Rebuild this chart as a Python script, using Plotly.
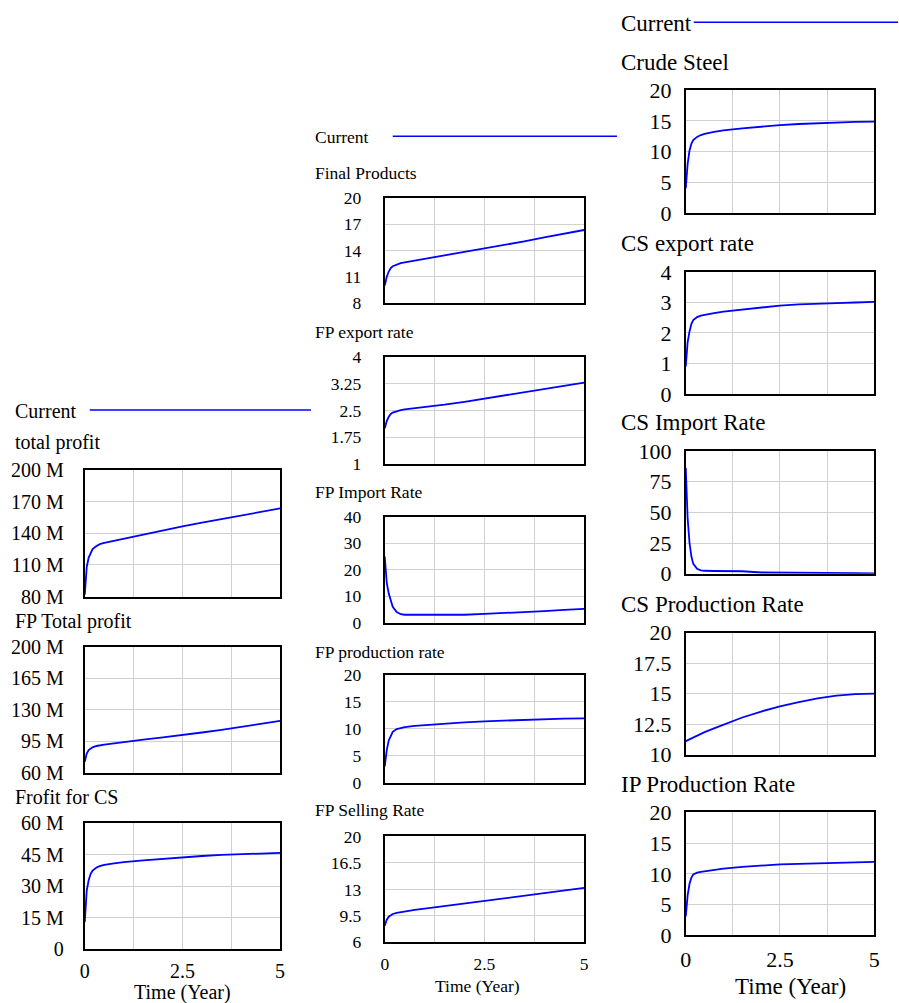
import plotly.graph_objects as go

# The layout below is written in pixels of the 899x1003 target picture.
REF_W, REF_H = 899, 1003
FIG_W, FIG_H = 907, 1027   # plotly figure size
OFF_X, OFF_Y = 4, 12       # page offset seen in the captured picture

# ---------------- data ----------------
time_years = [0, 0.02, 0.05, 0.1, 0.15, 0.2, 0.3, 0.4, 0.5, 0.75, 1, 1.5, 2, 2.5, 3, 3.5, 4, 4.5, 5]

total_profit = [82, 97, 108, 117, 122, 125, 128, 130, 131, 133, 135, 138.5, 142.5, 146.5, 150, 153.5, 157, 160.5, 163.5]
fp_total_profit = [72, 77, 81, 85, 87, 88, 89.5, 90.5, 91, 92.5, 94, 96.5, 99, 101.5, 104.5, 107.5, 110.5, 114, 117.5]
profit_for_cs = [13, 22, 28, 33, 36, 37.5, 39, 39.8, 40.3, 41, 41.6, 42.4, 43.2, 43.8, 44.5, 45, 45.4, 45.7, 46]

final_products = [10, 10.5, 11, 11.6, 12, 12.2, 12.4, 12.55, 12.65, 12.85, 13, 13.4, 13.8, 14.2, 14.6, 15.05, 15.5, 15.9, 16.35]
fp_export_rate = [2.0, 2.1, 2.2, 2.32, 2.4, 2.44, 2.48, 2.51, 2.53, 2.56, 2.59, 2.66, 2.74, 2.83, 2.92, 3.01, 3.1, 3.19, 3.28]
fp_import_rate = [25, 20, 15, 11, 8, 6, 4, 3.2, 3, 3, 3, 3, 3, 3.3, 3.6, 4, 4.4, 4.8, 5.2]
fp_production_rate = [3, 4.5, 6, 7.8, 8.8, 9.4, 9.9, 10.1, 10.25, 10.5, 10.65, 10.9, 11.15, 11.35, 11.5, 11.65, 11.8, 11.85, 11.9]
fp_selling_rate = [8.2, 8.6, 9, 9.4, 9.6, 9.75, 9.9, 10, 10.1, 10.3, 10.45, 10.8, 11.1, 11.45, 11.8, 12.15, 12.5, 12.85, 13.2]

crude_steel = [4, 6, 8, 10.2, 11.3, 11.9, 12.4, 12.7, 12.9, 13.2, 13.45, 13.8, 14.1, 14.3, 14.5, 14.65, 14.75, 14.85, 14.9]
cs_export_rate = [0.9, 1.3, 1.7, 2.05, 2.3, 2.42, 2.52, 2.57, 2.6, 2.65, 2.7, 2.77, 2.84, 2.9, 2.94, 2.97, 2.98, 3.0, 3.02]
cs_import_rate = [86, 65, 45, 25, 14, 8, 4, 2.8, 2.4, 2.2, 2.1, 2, 1, 1, 1, 0.9, 0.8, 0.5, 0.2]
cs_production_rate = [11.1, 11.13, 11.19, 11.28, 11.36, 11.44, 11.58, 11.71, 11.84, 12.15, 12.46, 13.04, 13.53, 13.95, 14.3, 14.6, 14.83, 14.95, 15.0]
ip_production_rate = [3.1, 4.5, 6.5, 8.4, 9.4, 9.9, 10.2, 10.35, 10.45, 10.65, 10.85, 11.15, 11.4, 11.55, 11.65, 11.75, 11.85, 11.9, 11.95]

x_ticks = [0, 1.25, 2.5, 3.75, 5]
x_tick_labels = ["0", "", "2.5", "", "5"]

yt_total_profit = [80, 110, 140, 170, 200]
yt_fp_total_profit = [60, 95, 130, 165, 200]
yt_profit_for_cs = [0, 15, 30, 45, 60]
yt_final_products = [8, 11, 14, 17, 20]
yt_fp_export_rate = [1, 1.75, 2.5, 3.25, 4]
yt_fp_import_rate = [0, 10, 20, 30, 40]
yt_fp_production_rate = [0, 5, 10, 15, 20]
yt_fp_selling_rate = [6, 9.5, 13, 16.5, 20]
yt_crude_steel = [0, 5, 10, 15, 20]
yt_cs_export_rate = [0, 1, 2, 3, 4]
yt_cs_import_rate = [0, 25, 50, 75, 100]
yt_cs_production_rate = [10, 12.5, 15, 17.5, 20]
yt_ip_production_rate = [0, 5, 10, 15, 20]

titles_left = ["total profit", "FP Total profit", "Frofit for CS"]
titles_mid = ["Final Products", "FP export rate", "FP Import Rate", "FP production rate", "FP Selling Rate"]
titles_right = ["Crude Steel", "CS export rate", "CS Import Rate", "CS Production Rate", "IP Production Rate"]

series_name = "Current"
x_title = "Time (Year)"

# ---------------- layout (pixel boxes in target-picture pixels) ----------------
FONT = "Liberation Serif, Times New Roman, serif"
BLUE = "#0000ff"

def fmt(v, suffix=""):
    s = ("%g" % v)
    return s if v == 0 else s + suffix

columns = [
    dict(x0=83, x1=279, fs=20, tfs=20, yst=15, xst=3, tx=12, time_y=993, time_x=181,
         cur_y=411, line=(88, 310),
         panels=[(total_profit, yt_total_profit, " M", 470, 597, 443),
                 (fp_total_profit, yt_fp_total_profit, " M", 647, 773, 622),
                 (profit_for_cs, yt_profit_for_cs, " M", 824, 950, 798)],
         titles=titles_left),
    dict(x0=384, x1=584, fs=17.5, tfs=17.5, yst=18, xst=5, tx=313, time_y=987, time_x=477,
         cur_y=137, line=(392, 617),
         panels=[(final_products, yt_final_products, "", 198, 303, 173),
                 (fp_export_rate, yt_fp_export_rate, "", 357, 464, 332),
                 (fp_import_rate, yt_fp_import_rate, "", 517, 623, 492),
                 (fp_production_rate, yt_fp_production_rate, "", 675, 783, 652),
                 (fp_selling_rate, yt_fp_selling_rate, "", 837, 943, 811)],
         titles=titles_mid),
    dict(x0=686, x1=875, fs=22, tfs=23, yst=8, xst=3, tx=620, time_y=987, time_x=791,
         cur_y=23, line=(694, 899),
         panels=[(crude_steel, yt_crude_steel, "", 90, 213, 62),
                 (cs_export_rate, yt_cs_export_rate, "", 272, 394, 243),
                 (cs_import_rate, yt_cs_import_rate, "", 451, 574, 423),
                 (cs_production_rate, yt_cs_production_rate, "", 633, 755, 605),
                 (ip_production_rate, yt_ip_production_rate, "", 813, 936, 785)],
         titles=titles_right),
]

fig = go.Figure()
layout = dict(width=FIG_W, height=FIG_H, margin=dict(l=0, r=0, t=0, b=0),
              paper_bgcolor="white", plot_bgcolor="white", showlegend=False,
              font=dict(family=FONT, color="black"))
annotations = []
shapes = []

def px(x):
    c = x * FIG_W / REF_W - OFF_X
    return c / FIG_W

def py(y):
    c = y * FIG_H / REF_H - OFF_Y
    return 1 - c / FIG_H

k = 0
for col in columns:
    n = len(col["panels"])
    for i, (vals, yt, suf, y0, y1, ty) in enumerate(col["panels"]):
        k += 1
        xa = "xaxis" if k == 1 else "xaxis%d" % k
        ya = "yaxis" if k == 1 else "yaxis%d" % k
        xr = "x" if k == 1 else "x%d" % k
        yr = "y" if k == 1 else "y%d" % k
        bottom = (i == n - 1)
        fig.add_trace(go.Scatter(x=time_years, y=vals, mode="lines",
                                 line=dict(color=BLUE, width=1.8),
                                 xaxis=xr, yaxis=yr, hoverinfo="skip"))
        layout[xa] = dict(domain=[px(col["x0"]), px(col["x1"])], anchor=yr,
                          range=[0, 5], tickvals=x_ticks, ticktext=x_tick_labels,
                          showticklabels=bottom, ticks="outside", ticklen=col["xst"],
                          tickcolor="rgba(0,0,0,0)",
                          tickfont=dict(family=FONT, size=col["fs"], color="black"),
                          showgrid=True, gridcolor="#d0d0d0", gridwidth=1.2,
                          zeroline=False, showline=True, linecolor="black",
                          linewidth=1.8, mirror=True, fixedrange=True)
        layout[ya] = dict(domain=[py(y1), py(y0)], anchor=xr,
                          range=[yt[0], yt[-1]], tickvals=yt,
                          ticktext=[fmt(v, suf) for v in yt],
                          ticks="outside", ticklen=col["yst"],
                          tickcolor="rgba(0,0,0,0)",
                          tickfont=dict(family=FONT, size=col["fs"], color="black"),
                          showgrid=True, gridcolor="#d0d0d0", gridwidth=1.2,
                          zeroline=False, showline=True, linecolor="black",
                          linewidth=1.8, mirror=True, fixedrange=True)
        annotations.append(dict(text=col["titles"][i], x=px(col["tx"]), y=py(ty),
                                xref="paper", yref="paper", xanchor="left", yanchor="middle",
                                showarrow=False, borderpad=0,
                                font=dict(family=FONT, size=col["tfs"], color="black")))
    annotations.append(dict(text=series_name, x=px(col["tx"]), y=py(col["cur_y"]),
                            xref="paper", yref="paper", xanchor="left", yanchor="middle",
                            showarrow=False, borderpad=0,
                            font=dict(family=FONT, size=col["tfs"], color="black")))
    shapes.append(dict(type="line", xref="paper", yref="paper",
                       x0=px(col["line"][0]), x1=px(col["line"][1]),
                       y0=py(col["cur_y"] - 1), y1=py(col["cur_y"] - 1),
                       line=dict(color=BLUE, width=1.5)))
    annotations.append(dict(text=x_title, x=px(col["time_x"]), y=py(col["time_y"]),
                            xref="paper", yref="paper", xanchor="center", yanchor="middle",
                            showarrow=False, borderpad=0,
                            font=dict(family=FONT, size=col["tfs"], color="black")))

layout["annotations"] = annotations
layout["shapes"] = shapes
fig.update_layout(**layout)
fig.write_html("out.html", config={"displayModeBar": False},
               post_script="document.body.style.margin='0';document.body.style.padding='0';document.body.style.overflow='hidden';")
